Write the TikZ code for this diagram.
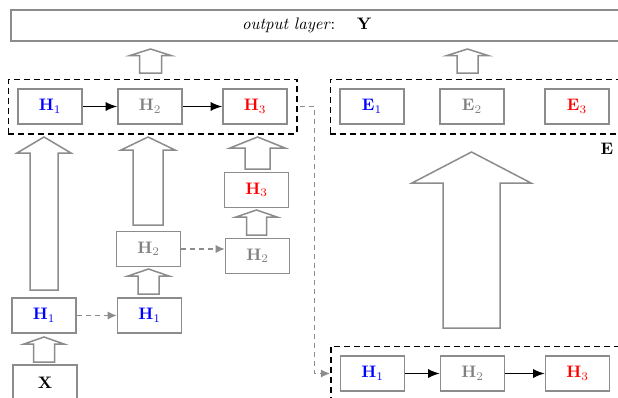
\documentclass[tikz,border=0pt]{standalone}
\usepackage{tikz}
\usetikzlibrary{calc}
\usetikzlibrary{arrows.meta,fit}

\definecolor{boxgray}{RGB}{140,140,140}
\definecolor{txtgray}{RGB}{128,128,128}

% block arrow: x, tip y, head base y, bottom y, half head, half shaft
\newcommand{\fatarrow}[6]{%
  \draw [barrow] ({#1-#6},#4) -- ({#1-#6},#3) -- ({#1-#5},#3) -- (#1,#2)
    -- ({#1+#5},#3) -- ({#1+#6},#3) -- ({#1+#6},#4) -- cycle;}

\newcommand{\hb}[2]{\textcolor{#1}{$\mathbf{H}_{#2}$}}
\newcommand{\eb}[2]{\textcolor{#1}{$\mathbf{E}_{#2}$}}

\tikzset{
  hbox/.style={draw=boxgray, line width=0.9pt, minimum width=38.4pt,
    minimum height=21pt, inner sep=0pt},
  dbox/.style={draw=black, line width=0.9pt, dash pattern=on 3.6pt off 2.4pt,
    inner sep=5.4pt},
  barrow/.style={draw=boxgray, line width=0.9pt, fill=white, line join=miter},
  flow/.style={-{Latex[length=7pt,width=5.5pt]}, line width=0.9pt},
  skip/.style={-{Latex[length=5.5pt,width=5pt]}, draw=boxgray, line width=0.8pt,
    dash pattern=on 3pt off 2.4pt}
}

\begin{document}
\begin{tikzpicture}[x=0.6pt, y=-0.6pt]
    \useasboundingbox (0,0) rectangle (618,398);

    % output layer
    \node [hbox, minimum width=371.4pt, minimum height=18.6pt] (outbox) at (320.5,25.5) {};
    \node (outtxt) at (307,25.5) {\textit{output layer}:\hspace{1.3em}$\mathbf{Y}$};

    % top left row
    \node [hbox] (H1a) at (50,106.5) {\hb{blue}{1}};
    \node [hbox] (H2a) at (150,106.5) {\hb{txtgray}{2}};
    \node [hbox] (H3a) at (255,106.5) {\hb{red}{3}};
    \node [dbox, fit=(H1a)(H3a)] (topL) {};

    % top right row
    \coordinate (farA) at (640,106.5);
    \node [hbox] (E1) at (372,106.5) {\eb{blue}{1}};
    \node [hbox] (E2) at (472,106.5) {\eb{txtgray}{2}};
    \node [hbox] (E3) at (577,106.5) {\eb{red}{3}};
    \node [dbox, fit=(E1)(E3)(farA)] (topR) {};
    \node (Elab) at (607,149) {$\mathbf{E}$};

    % columns
    \node [hbox] (X) at (45,382.5) {$\mathbf{X}$};
    \node [hbox] (H1b) at (44,315.5) {\hb{blue}{1}};
    \node [hbox] (H1c) at (149.5,315.5) {\hb{blue}{1}};
    \node [hbox] (H2c) at (148.5,249) {\hb{txtgray}{2}};
    \node [hbox] (H2d) at (257.5,256) {\hb{txtgray}{2}};
    \node [hbox] (H3d) at (256.5,190) {\hb{red}{3}};

    % bottom right row
    \coordinate (farB) at (640,420);
    \node [hbox] (H1e) at (372.5,373.5) {\hb{blue}{1}};
    \node [hbox] (H2e) at (472.5,373.5) {\hb{txtgray}{2}};
    \node [hbox] (H3e) at (577.5,373.5) {\hb{red}{3}};
    \node [dbox, fit=(H1e)(H3e)(farB)] (botR) {};

    % connectors
    \draw [flow] (H1a) -- (H2a);
    \draw [flow] (H2a) -- (H3a);
    \draw [flow] (H1e) -- (H2e);
    \draw [flow] (H2e) -- (H3e);
    \draw [skip] (H1b) -- (H1c);
    \draw [skip] (H2c.east) -- (H2c.east -| H2d.west);
    \draw [skip, shorten <=1.2pt] (topL.east) -- ++(17,0) |- (H1e -| botR.west);

    % block arrows
    \fatarrow{150.5}{49}{55.5}{73}{20.5}{11}
    \fatarrow{467.5}{49}{55.5}{73}{20.5}{10.5}
    \fatarrow{44}{137}{153}{290}{27}{14}
    \fatarrow{44}{337}{344}{362}{20}{10.5}
    \fatarrow{148}{137}{150}{225}{27}{15}
    \fatarrow{148.5}{269}{276}{294}{20.5}{10.5}
    \fatarrow{256.5}{210}{217}{235}{20.5}{10}
    \fatarrow{257.5}{137}{148}{169}{27.5}{12.5}
    \fatarrow{471.5}{152}{183}{328}{59.5}{28.5}
\end{tikzpicture}
\end{document}
